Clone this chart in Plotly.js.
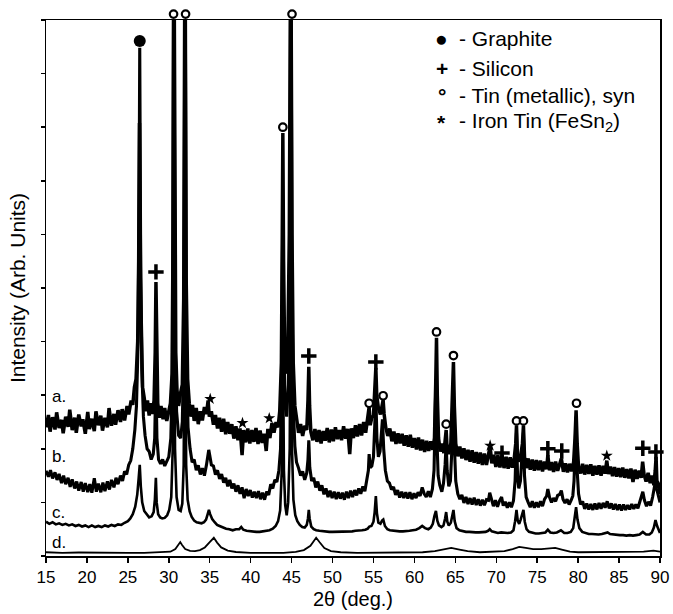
<!DOCTYPE html>
<html>
<head>
<meta charset="utf-8">
<script src="https://cdn.plot.ly/plotly-3.0.1.min.js"></script>
<style>html,body{margin:0;padding:0;background:#fff}#chart{width:673px;height:614px}</style>
</head>
<body>
<div id="chart"></div>
<script>
// ---- Data (2θ in degrees, intensity in arbitrary units, offset patterns) ----
const patternA = [
[15.0,24.0],[15.3,26.3],[15.5,23.2],[15.8,25.9],[16.1,23.6],[16.3,26.8],[16.6,23.9],[16.9,25.4],[17.1,22.9],[17.4,26.0],
[17.7,24.1],[17.9,27.3],[18.2,23.5],[18.5,25.8],[18.7,23.0],[19.0,26.4],[19.3,24.2],[19.5,25.5],[19.8,22.8],[20.1,26.9],
[20.3,23.7],[20.6,25.6],[20.9,23.3],[21.1,27.0],[21.4,24.4],[21.7,26.2],[21.9,23.4],[22.2,25.8],[22.5,24.0],[22.7,27.6],
[23.0,24.3],[23.3,26.5],[23.5,24.5],[23.8,27.2],[24.1,25.0],[24.3,27.4],[24.6,25.3],[24.9,28.0],[25.1,26.4],[25.4,29.0],
[25.6,28.2],[25.8,31.5],[26.0,33.0],[26.2,40.0],[26.32,55],[26.42,80.8],[26.52,52],[26.65,38],[26.8,31.5],[27.0,29.5],
[27.2,27.0],[27.4,29.0],[27.6,26.2],[27.8,28.5],[28.0,26.5],[28.2,29.0],[28.34,38],[28.43,51.1],[28.52,36],[28.65,28.5],
[28.85,25.8],[29.05,28.0],[29.3,25.5],[29.5,27.6],[29.75,25.2],[30.0,27.5],[30.2,28.5],[30.4,34],[30.52,60],[30.62,120],
[30.72,60],[30.85,38],[31.0,31],[31.2,28],[31.45,30.5],[31.65,32],[31.82,48],[31.98,120],[32.12,52],[32.3,33],
[32.5,28.5],[32.7,26.0],[32.9,28.2],[33.1,25.2],[33.35,27.6],[33.6,24.6],[33.85,27.0],[34.1,25.3],[34.35,27.8],[34.6,26.5],
[34.8,29.0],[34.95,26.0],[35.2,27.0],[35.45,24.5],[35.7,26.3],[35.95,23.8],[36.2,25.8],[36.45,23.2],[36.7,25.6],[36.95,22.7],
[37.2,25.0],[37.45,22.8],[37.7,24.6],[37.95,21.9],[38.2,24.2],[38.45,21.6],[38.7,23.8],[38.95,18.8],[39.15,23.5],[39.4,21.2],
[39.65,23.8],[39.9,21.0],[40.15,23.5],[40.4,21.3],[40.65,23.9],[40.9,20.9],[41.15,23.4],[41.4,21.1],[41.65,22.8],[41.9,19.6],
[42.1,23.7],[42.35,22.0],[42.6,24.8],[42.85,23.0],[43.1,25.0],[43.35,24.0],[43.55,27.0],[43.75,36],[43.86,60],[43.93,78.9],
[44.02,55],[44.15,38],[44.35,34],[44.55,40],[44.72,60],[44.9,120],[45.05,60],[45.2,36],[45.4,28],[45.6,25.2],
[45.85,23.0],[46.1,24.6],[46.35,22.4],[46.6,24.3],[46.85,23.5],[47.0,29],[47.1,35.3],[47.2,28],[47.35,23.2],[47.6,21.6],
[47.85,23.7],[48.1,21.3],[48.35,23.5],[48.6,21.0],[48.85,23.3],[49.1,21.5],[49.35,23.9],[49.6,21.2],[49.85,23.6],[50.1,21.4],
[50.35,24.0],[50.6,21.8],[50.85,23.5],[51.1,21.6],[51.35,24.2],[51.6,21.9],[51.85,23.7],[52.1,19.0],[52.3,23.8],[52.55,22.0],
[52.8,24.4],[53.05,22.3],[53.3,24.6],[53.55,22.5],[53.8,25.0],[54.05,23.0],[54.3,25.6],[54.47,27.8],[54.6,24.4],[54.8,25.8],
[55.0,26.2],[55.18,31],[55.29,35.1],[55.4,30],[55.6,27.6],[55.85,26.4],[56.05,28.0],[56.18,29.1],[56.3,26.5],[56.5,24.0],
[56.75,22.4],[57.0,23.8],[57.25,21.4],[57.5,23.2],[57.75,20.9],[58.0,22.9],[58.25,21.0],[58.5,22.8],[58.75,20.6],[59.0,22.5],
[59.25,20.4],[59.5,22.6],[59.75,20.2],[60.0,22.0],[60.25,19.9],[60.5,22.1],[60.75,19.7],[61.0,21.7],[61.25,19.4],[61.5,21.5],
[61.75,19.6],[62.0,21.4],[62.25,19.8],[62.45,22],[62.6,32],[62.7,40.7],[62.8,30],[62.95,22],[63.15,19.5],[63.4,21.0],
[63.6,19.2],[63.78,22.0],[63.88,23.5],[63.98,20.5],[64.2,19.0],[64.45,21.0],[64.65,29],[64.77,36.2],[64.88,28],[65.05,21.0],
[65.3,18.6],[65.55,20.4],[65.8,18.2],[66.05,20.1],[66.3,17.9],[66.55,19.8],[66.8,17.6],[67.05,19.7],[67.3,17.4],[67.55,19.4],
[67.8,17.2],[68.05,19.3],[68.3,17.0],[68.55,19.1],[68.8,17.0],[69.05,18.6],[69.25,20.5],[69.45,17.3],[69.7,18.9],[69.95,16.6],
[70.2,18.8],[70.45,16.5],[70.7,18.9],[70.95,16.4],[71.2,18.5],[71.45,16.3],[71.7,18.4],[71.95,16.5],[72.2,18.3],[72.38,21],
[72.47,24.4],[72.58,19],[72.75,17.6],[72.95,18.4],[73.2,21],[73.32,24.4],[73.45,18.5],[73.65,16.4],[73.9,18.2],[74.15,16.1],
[74.4,18.0],[74.65,15.9],[74.9,17.9],[75.15,16.0],[75.4,17.8],[75.65,15.8],[75.9,17.6],[76.15,16.2],[76.3,18.8],[76.5,16.0],
[76.75,17.5],[77.0,15.7],[77.25,17.6],[77.5,15.9],[77.75,17.4],[77.95,18.2],[78.2,15.7],[78.45,17.3],[78.7,15.6],[78.95,17.2],
[79.2,15.8],[79.45,17.5],[79.62,22],[79.75,27.2],[79.88,21],[80.05,16.6],[80.3,15.4],[80.55,17.2],[80.8,15.2],[81.05,17.0],
[81.3,15.3],[81.55,17.1],[81.8,15.0],[82.05,16.8],[82.3,15.2],[82.55,16.9],[82.8,15.0],[83.05,16.8],[83.3,15.4],[83.5,17.8],
[83.7,15.3],[83.95,16.7],[84.2,14.9],[84.45,16.6],[84.7,14.8],[84.95,16.4],[85.2,14.7],[85.45,16.5],[85.7,14.6],[85.95,16.2],
[86.2,14.5],[86.45,16.3],[86.7,13.8],[86.95,16.1],[87.2,14.4],[87.45,15.9],[87.7,14.6],[87.88,17.6],[88.05,15.2],[88.3,13.9],
[88.55,15.5],[88.8,13.6],[89.05,15.0],[89.25,13.2],[89.42,16],[89.52,18.5],[89.62,14.0],[89.8,13.5],[90.0,11.5]
];

const patternB = [
[15.0,15.9],[15.3,14.8],[15.55,16.0],[15.8,14.5],[16.1,15.6],[16.35,14.2],[16.6,15.3],[16.9,13.6],[17.15,15.0],[17.4,13.4],
[17.7,14.6],[17.95,12.9],[18.2,14.3],[18.5,12.6],[18.75,13.9],[19.0,12.2],[19.3,13.8],[19.55,12.0],[19.8,13.6],[20.1,11.9],
[20.35,13.4],[20.6,11.8],[20.9,14.5],[21.15,12.0],[21.4,13.5],[21.7,11.9],[21.95,13.7],[22.2,12.1],[22.5,13.9],[22.75,12.4],
[23.0,14.2],[23.3,12.8],[23.55,14.6],[23.8,13.4],[24.1,15.0],[24.35,14.0],[24.6,15.8],[24.85,15.2],[25.1,17.0],[25.35,17.8],
[25.6,20.0],[25.85,23.5],[26.05,28],[26.25,40],[26.38,70],[26.45,94.8],[26.55,60],[26.7,35],[26.9,26],[27.1,22.5],
[27.35,20.0],[27.6,19.5],[27.85,18.0],[28.1,19.0],[28.28,22],[28.42,33.8],[28.55,22],[28.75,18.0],[29.0,17.2],[29.25,18.0],
[29.5,16.8],[29.75,17.8],[30.0,18.5],[30.25,22],[30.45,35],[30.6,120],[30.78,40],[30.95,27],[31.2,22.5],[31.45,22.0],
[31.65,25],[31.85,40],[31.98,120],[32.15,38],[32.35,24],[32.6,20.0],[32.85,17.5],[33.1,18.0],[33.35,16.0],[33.6,16.9],
[33.85,15.2],[34.1,16.4],[34.35,15.0],[34.6,17.0],[34.78,18.5],[34.88,19.8],[35.0,18.8],[35.2,17.0],[35.45,16.8],[35.7,15.2],
[35.95,16.0],[36.2,14.4],[36.45,15.3],[36.7,13.7],[36.95,14.6],[37.2,13.0],[37.45,14.2],[37.7,12.6],[37.95,13.5],[38.2,12.0],
[38.45,13.2],[38.7,11.6],[38.95,12.8],[39.2,10.8],[39.45,12.5],[39.7,11.2],[39.95,12.3],[40.2,10.9],[40.45,12.0],[40.7,10.8],
[40.95,12.1],[41.2,10.6],[41.45,11.8],[41.7,10.5],[41.95,12.0],[42.2,11.4],[42.45,13.4],[42.7,12.6],[42.95,14.2],[43.2,13.8],
[43.45,16.0],[43.65,20],[43.82,40],[43.93,66.4],[44.05,40],[44.2,28],[44.4,26],[44.6,32],[44.78,60],[44.91,120],
[45.05,50],[45.2,28],[45.4,20.5],[45.6,17.5],[45.85,16.4],[46.1,15.0],[46.35,15.8],[46.6,14.2],[46.85,15.5],[47.0,18],
[47.1,21.6],[47.22,16.5],[47.45,14.0],[47.7,14.6],[47.95,12.8],[48.2,13.9],[48.45,12.2],[48.7,13.2],[48.95,11.5],[49.2,12.6],
[49.45,11.0],[49.7,12.2],[49.95,10.8],[50.2,12.0],[50.45,10.6],[50.7,11.9],[50.95,10.7],[51.2,11.8],[51.45,10.5],[51.7,12.0],
[51.95,10.8],[52.2,12.2],[52.45,11.0],[52.7,12.3],[52.95,11.3],[53.2,12.6],[53.45,11.6],[53.7,13.0],[53.95,12.1],[54.2,14.0],
[54.38,16],[54.47,19],[54.6,16.5],[54.8,16.8],[55.0,18.5],[55.15,24],[55.29,30],[55.42,22],[55.6,18.5],[55.8,19.5],
[55.98,23],[56.1,25.5],[56.25,20],[56.45,16.0],[56.7,14.0],[56.95,13.6],[57.2,12.4],[57.45,12.9],[57.7,11.4],[57.95,12.3],
[58.2,10.9],[58.45,12.0],[58.7,10.8],[58.95,11.9],[59.2,10.7],[59.45,11.9],[59.7,10.6],[59.95,11.7],[60.2,10.8],[60.45,11.9],
[60.7,11.2],[60.95,12.8],[61.2,11.6],[61.45,11.0],[61.7,12.1],[61.95,11.0],[62.2,12.5],[62.4,16],[62.52,25],[62.63,33],
[62.75,22],[62.9,15],[63.1,13.2],[63.35,12.0],[63.55,13.5],[63.75,17],[63.88,21],[64.0,16],[64.2,13.0],[64.4,14.0],
[64.55,19],[64.67,26],[64.77,30],[64.9,20],[65.05,14],[65.3,11.6],[65.55,10.6],[65.8,11.4],[66.05,9.9],[66.3,11.0],
[66.55,9.7],[66.8,10.8],[67.05,9.6],[67.3,10.9],[67.55,9.5],[67.8,10.6],[68.05,9.4],[68.3,10.5],[68.55,9.5],[68.8,10.5],
[69.05,10.4],[69.2,11.8],[69.4,10.5],[69.65,9.3],[69.9,10.4],[70.15,9.2],[70.4,10.3],[70.65,11.0],[70.85,9.4],[71.1,10.1],
[71.35,9.0],[71.6,10.0],[71.85,9.1],[72.1,10.3],[72.3,14],[72.47,23],[72.6,15],[72.75,12.6],[72.95,14],[73.15,18],
[73.32,23],[73.45,15],[73.65,11.0],[73.9,10.0],[74.15,9.1],[74.4,10.2],[74.65,9.0],[74.9,10.0],[75.15,9.1],[75.4,10.2],
[75.65,9.3],[75.9,10.6],[76.15,11.2],[76.3,12.5],[76.5,11.0],[76.75,10.0],[77.0,10.8],[77.25,10.2],[77.5,11.3],[77.75,11.5],
[77.95,12.2],[78.15,10.6],[78.4,9.9],[78.65,10.6],[78.9,9.6],[79.15,10.4],[79.35,11.2],[79.5,14],[79.62,20],[79.75,26],
[79.88,16],[80.05,11.6],[80.3,9.6],[80.55,10.2],[80.8,8.8],[81.05,9.8],[81.3,8.7],[81.55,9.7],[81.8,8.6],[82.05,9.8],
[82.3,8.7],[82.55,9.9],[82.8,8.8],[83.05,9.9],[83.3,9.0],[83.55,10.2],[83.8,8.9],[84.05,9.8],[84.3,8.7],[84.55,9.7],
[84.8,8.6],[85.05,9.6],[85.3,8.5],[85.55,9.6],[85.8,8.6],[86.05,9.5],[86.3,8.7],[86.55,9.7],[86.8,8.8],[87.05,9.6],
[87.3,8.9],[87.55,10.2],[87.75,11.5],[87.9,12.0],[88.1,10.4],[88.35,9.3],[88.6,10.1],[88.85,9.4],[89.1,11.0],[89.3,12.6],
[89.45,14.0],[89.6,12.5],[89.8,11.0],[90.0,10.0]
];

const patternC = [
[15.0,6.4],[15.4,6.0],[15.8,6.3],[16.2,5.9],[16.6,6.1],[17.0,5.8],[17.4,6.0],[17.8,5.7],[18.2,5.9],[18.6,5.6],
[19.0,5.8],[19.4,5.5],[19.8,5.7],[20.2,5.4],[20.6,5.7],[21.0,5.4],[21.4,5.6],[21.8,5.4],[22.2,5.7],[22.6,5.5],
[23.0,5.8],[23.4,5.6],[23.8,5.9],[24.2,5.8],[24.6,6.2],[25.0,6.5],[25.3,7.0],[25.6,7.8],[25.9,9.2],[26.15,11.5],
[26.32,14.5],[26.45,17.0],[26.58,13.0],[26.75,10.0],[27.0,8.4],[27.3,7.7],[27.6,7.2],[27.9,7.4],[28.15,8.2],[28.3,10.5],
[28.42,14.6],[28.52,10.0],[28.7,7.8],[28.95,7.2],[29.2,7.0],[29.5,7.1],[29.8,7.6],[30.05,8.6],[30.3,11],[30.48,20],
[30.62,61.4],[30.76,20],[30.95,11],[31.2,8.6],[31.45,8.4],[31.65,9.8],[31.82,17],[31.98,57.1],[32.12,17],[32.3,10.5],
[32.55,8.3],[32.8,7.3],[33.1,6.6],[33.4,6.3],[33.7,6.2],[34.0,6.1],[34.3,6.3],[34.55,6.8],[34.75,7.8],[34.9,8.6],
[35.05,7.8],[35.3,6.9],[35.6,6.3],[35.9,5.8],[36.2,5.6],[36.6,5.3],[37.0,5.1],[37.4,5.0],[37.8,4.8],[38.2,5.0],
[38.6,5.0],[38.85,5.4],[39.1,4.9],[39.5,4.7],[39.9,4.6],[40.3,4.6],[40.7,4.5],[41.1,4.5],[41.5,4.6],[41.9,4.6],
[42.3,4.8],[42.7,5.1],[43.05,5.6],[43.35,6.5],[43.6,8.5],[43.8,16],[43.93,44.0],[44.06,16],[44.22,9.5],[44.4,7.6],
[44.58,10],[44.77,20],[44.91,59.0],[45.05,20],[45.22,10.5],[45.45,7.6],[45.7,6.5],[46.0,5.8],[46.3,5.4],[46.6,5.3],
[46.85,5.8],[47.0,7.0],[47.1,8.6],[47.2,7.0],[47.4,5.5],[47.7,5.0],[48.0,4.8],[48.4,4.7],[48.8,4.6],[49.2,4.6],
[49.6,4.5],[50.0,4.5],[50.4,4.5],[50.8,4.5],[51.2,4.6],[51.6,4.5],[52.0,4.6],[52.4,4.6],[52.8,4.7],[53.2,4.7],
[53.6,4.8],[54.0,4.9],[54.3,5.1],[54.5,5.5],[54.75,5.6],[55.0,6.4],[55.15,8.2],[55.29,11.2],[55.42,8.0],[55.6,6.2],
[55.85,6.0],[56.05,6.6],[56.2,6.8],[56.4,5.6],[56.7,5.0],[57.0,4.8],[57.4,4.7],[57.8,4.6],[58.2,4.6],[58.6,4.6],
[59.0,4.6],[59.4,4.7],[59.8,4.8],[60.2,4.9],[60.6,5.2],[60.95,5.6],[61.3,5.2],[61.7,5.0],[62.0,5.3],[62.25,6.0],
[62.45,7.5],[62.63,8.4],[62.8,6.6],[63.0,5.7],[63.3,5.4],[63.55,5.7],[63.75,7.0],[63.88,8.2],[64.02,6.4],[64.2,5.7],
[64.45,6.2],[64.63,7.6],[64.77,8.6],[64.92,6.5],[65.15,5.2],[65.5,4.8],[65.9,4.6],[66.3,4.5],[66.7,4.5],[67.1,4.4],
[67.5,4.4],[67.9,4.4],[68.3,4.4],[68.7,4.5],[69.0,4.7],[69.2,5.0],[69.45,4.6],[69.8,4.4],[70.2,4.3],[70.6,4.4],
[71.0,4.3],[71.4,4.3],[71.8,4.4],[72.1,4.8],[72.3,6.5],[72.47,8.6],[72.62,6.6],[72.8,6.0],[72.98,6.8],[73.15,7.8],
[73.32,8.6],[73.48,6.4],[73.7,5.0],[74.0,4.5],[74.4,4.3],[74.8,4.2],[75.2,4.2],[75.6,4.3],[76.0,4.4],[76.3,4.9],
[76.6,4.4],[77.0,4.3],[77.4,4.4],[77.9,4.8],[78.3,4.3],[78.7,4.3],[79.1,4.5],[79.4,5.2],[79.58,7.0],[79.75,9.1],
[79.92,6.8],[80.15,5.2],[80.5,4.5],[80.9,4.3],[81.3,4.1],[81.7,4.1],[82.1,4.0],[82.5,4.0],[82.9,4.1],[83.3,4.2],
[83.6,4.4],[83.9,4.1],[84.3,4.0],[84.7,3.9],[85.1,3.9],[85.5,3.9],[85.9,3.8],[86.3,3.9],[86.7,3.8],[87.1,3.9],
[87.5,4.0],[87.9,4.5],[88.3,4.0],[88.7,4.0],[89.0,4.4],[89.25,5.3],[89.45,6.7],[89.65,5.6],[89.85,4.8],[90.0,4.3]
];

const patternD = [
[15,0.7],[17,0.6],[19,0.65],[21,0.6],[23,0.6],[25,0.6],[27,0.6],[29,0.65],[30.2,0.8],[30.8,1.3],
[31.2,2.1],[31.4,2.6],[31.6,2.1],[32.0,1.3],[32.6,0.95],[33.2,0.9],[33.8,1.1],[34.4,1.6],[35.0,2.6],[35.5,3.4],
[35.9,2.5],[36.4,1.6],[37.2,1.0],[38.2,0.75],[40,0.6],[42,0.6],[44,0.6],[45.5,0.75],[46.5,1.1],[47.3,1.9],
[47.8,3.0],[48.0,3.4],[48.4,2.6],[49.0,1.5],[49.8,0.9],[51,0.7],[53,0.6],[56,0.6],[59,0.65],[61,0.7],
[62.5,0.9],[63.5,1.2],[64.5,1.5],[65.5,1.2],[66.5,0.9],[68,0.7],[70,0.75],[71,0.9],[72,1.3],[72.8,1.7],
[73.6,1.5],[74.5,1.3],[75.5,1.3],[76.5,1.5],[77.2,1.5],[78,1.2],[79,0.8],[80,0.7],[83,0.7],[86,0.75],
[88,0.8],[89.2,1.0],[90,0.8]
];

// phase identification marks
const graphiteX = [26.45];
const graphiteY = [96.1];
const siliconX = [28.43, 47.1, 55.29, 70.7, 76.3, 78.0, 87.9, 89.5];
const siliconY = [53.0, 37.3, 36.2, 19.2, 20.0, 19.6, 20.1, 19.4];
const tinX = [30.58, 32.05, 45.05, 43.93, 54.47, 56.18, 62.7, 63.88, 64.77, 72.47, 73.32, 79.8];
const tinY = [101.1, 101.1, 101.1, 80.0, 28.5, 29.9, 41.8, 24.6, 37.4, 25.2, 25.2, 28.5];
const ironTinX = [35.06, 39.0, 42.27, 69.25, 83.5];
const ironTinY = [29.3, 24.8, 25.7, 20.6, 18.7];

const sampleLabels = ['a.', 'b.', 'c.', 'd.'];
const sampleLabelY = [29.7, 18.5, 8.2, 2.6];

const legendSymbols = ['●', '<b>+</b>', '<b>°</b>', '<b>*</b>'];
const legendTexts = ['- Graphite', '- Silicon', '- Tin (metallic), syn', '- Iron Tin (FeSn<sub>2</sub>)'];
const legendRowY = [0.9646, 0.9104, 0.860, 0.8097];

const xTicks = [15, 20, 25, 30, 35, 40, 45, 50, 55, 60, 65, 70, 75, 80, 85, 90];

// ---- Build chart ----
const FONT = 'Liberation Sans, Arial, Helvetica, sans-serif';
// main plot area spans pixels 20..556 (536 px); a second, invisible subplot spans 8..556 (548 px)
// with the same intensity scale so that marks just above the frame stay visible
const TOP_MARGIN = 8, MAIN_H = 536, FULL_H = 548;
const yMax = 100;
const yMax2 = yMax * FULL_H / MAIN_H;

function lineTrace(pts, w) {
  return {
    type: 'scatter', mode: 'lines',
    x: pts.map(p => p[0]), y: pts.map(p => p[1]),
    line: {color: '#000', width: w},
    showlegend: false, hoverinfo: 'skip'
  };
}
const data = [
  lineTrace(patternD, 1.8),
  lineTrace(patternC, 2.6),
  lineTrace(patternB, 3.1),
  lineTrace(patternA, 3.5),
  {type: 'scatter', mode: 'markers', x: graphiteX, y: graphiteY, showlegend: false,
   marker: {symbol: 'circle', size: 12, color: '#000'}},
  {type: 'scatter', mode: 'markers', x: siliconX, y: siliconY, cliponaxis: false, showlegend: false,
   marker: {symbol: 'cross-thin', size: 11, color: '#000', line: {color: '#000', width: 3.5}}},
  {type: 'scatter', mode: 'markers', x: tinX, y: tinY, xaxis: 'x2', yaxis: 'y2', cliponaxis: false, showlegend: false,
   marker: {symbol: 'circle-open', size: 7.5, color: '#000', line: {color: '#000', width: 2.2}}},
  {type: 'scatter', mode: 'markers', x: ironTinX, y: ironTinY, showlegend: false,
   marker: {symbol: 'star', size: 9, color: '#000'}}
];

const annotations = [];
sampleLabels.forEach((t, i) => annotations.push({
  text: t, xref: 'paper', yref: 'y', x: 0.0065, y: sampleLabelY[i],
  xanchor: 'left', yanchor: 'middle', showarrow: false,
  font: {family: FONT, size: 17, color: '#000'}
}));
legendSymbols.forEach((s, i) => {
  annotations.push({
    text: s, xref: 'paper', yref: 'paper', x: 0.6445, y: legendRowY[i] * MAIN_H / FULL_H,
    xanchor: 'center', yanchor: 'middle', showarrow: false,
    font: {family: FONT, size: 21, color: '#000'}
  });
  annotations.push({
    text: legendTexts[i], xref: 'paper', yref: 'paper', x: 0.6694, y: legendRowY[i] * MAIN_H / FULL_H,
    xanchor: 'left', yanchor: 'middle', showarrow: false,
    font: {family: FONT, size: 21, color: '#000'}
  });
});

const layout = {
  width: 673, height: 614,
  margin: {l: 46, r: 13, t: TOP_MARGIN, b: 58, pad: 0},
  paper_bgcolor: '#fff', plot_bgcolor: 'rgba(0,0,0,0)',
  font: {family: FONT, color: '#000'},
  showlegend: false,
  xaxis: {
    domain: [0, 1],
    range: [15, 90], tickmode: 'array', tickvals: xTicks, ticktext: xTicks.map(String),
    ticks: 'outside', ticklen: 5, tickwidth: 1.5, tickcolor: '#000',
    showline: true, linecolor: '#000', linewidth: 1.5, mirror: true,
    showgrid: false, zeroline: false,
    tickfont: {family: FONT, size: 17, color: '#000'},
    title: {text: '2θ (deg.)', font: {family: FONT, size: 20, color: '#000'}, standoff: 6}
  },
  yaxis: {
    domain: [0, MAIN_H / FULL_H],
    range: [0, yMax], tickmode: 'linear', tick0: 0, dtick: 10,
    ticks: 'outside', ticklen: 4, tickwidth: 1.5, tickcolor: '#000',
    showticklabels: false,
    showline: true, linecolor: '#000', linewidth: 1.5, mirror: true,
    showgrid: false, zeroline: false,
    title: {text: 'Intensity (Arb. Units)', font: {family: FONT, size: 21, color: '#000'}, standoff: 9}
  },
  xaxis2: {domain: [0, 1], range: [15, 90], anchor: 'y2', visible: false, showgrid: false, zeroline: false},
  yaxis2: {domain: [0, 1], range: [0, yMax2], anchor: 'x2', visible: false, showgrid: false, zeroline: false},
  annotations: annotations
};

Plotly.newPlot('chart', data, layout, {displayModeBar: false, staticPlot: true});
</script>
</body>
</html>
